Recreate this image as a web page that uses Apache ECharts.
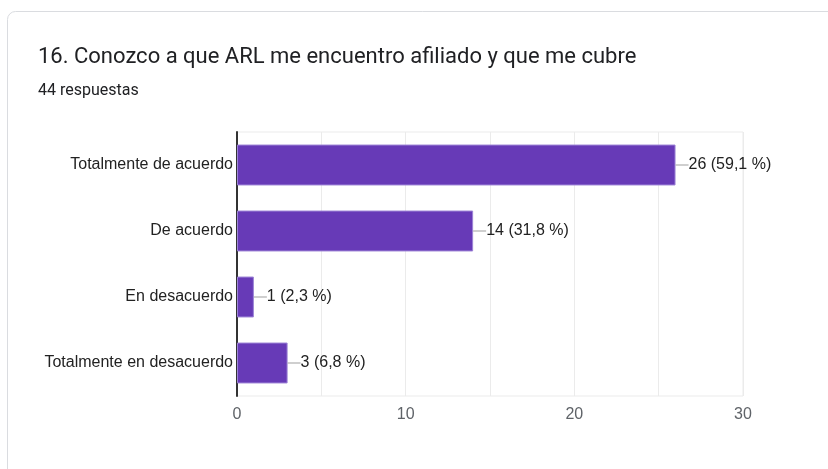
<!DOCTYPE html>
<html>
<head>
<meta charset="utf-8">
<script src="https://cdn.jsdelivr.net/npm/echarts@6/dist/echarts.min.js"></script>
<style>
  html, body { margin: 0; padding: 0; background: #ffffff; }
  #chart { width: 828px; height: 469px; }
</style>
</head>
<body>
<div id="chart"></div>
<script>
// Survey question and answers
const questionTitle = '16. Conozco a que ARL me encuentro afiliado y que me cubre';
const responseCount = 44;
const categories = ['Totalmente de acuerdo', 'De acuerdo', 'En desacuerdo', 'Totalmente en desacuerdo'];
const counts = [26, 14, 1, 3];
const percents = ['59,1', '31,8', '2,3', '6,8'];
const axisTicks = [0, 10, 20, 30];

const chart = echarts.init(document.getElementById('chart'), null, { renderer: 'canvas' });

const option = {
  backgroundColor: '#ffffff',
  animation: false,
  graphic: [
    {
      type: 'rect',
      shape: { x: 7.5, y: 11.5, width: 900, height: 600, r: 8 },
      style: { fill: '#ffffff', stroke: '#dadce0', lineWidth: 1 },
      z: -10
    }
  ],
  title: {
    text: questionTitle,
    subtext: responseCount + ' respuestas',
    left: 38,
    top: 46,
    padding: 0,
    itemGap: 15,
    textStyle: { fontFamily: 'Roboto', fontSize: 22, fontWeight: 'normal', color: '#202124' },
    subtextStyle: { fontFamily: 'Roboto', fontSize: 16, color: '#202124' }
  },
  grid: {
    left: 237, top: 132, width: 506, height: 264,
    show: true, borderColor: '#ebebeb', borderWidth: 1, containLabel: false
  },
  xAxis: {
    type: 'value',
    min: axisTicks[0],
    max: axisTicks[axisTicks.length - 1],
    interval: 5,
    axisLine: { show: false },
    axisTick: { show: false },
    splitLine: { show: true, lineStyle: { color: '#ebebeb', width: 1 } },
    axisLabel: {
      color: '#5f6368', fontFamily: 'Liberation Sans', fontSize: 16, margin: 11,
      formatter: v => axisTicks.indexOf(v) >= 0 ? String(v) : ''
    }
  },
  yAxis: {
    type: 'category',
    data: categories,
    inverse: true,
    axisLine: { show: true, lineStyle: { color: '#333333', width: 2 } },
    axisTick: { show: false },
    axisLabel: { color: '#222222', fontFamily: 'Liberation Sans', fontSize: 16, margin: 4 }
  },
  series: [
    {
      type: 'bar',
      data: counts,
      barCategoryGap: '38%',
      itemStyle: { color: '#673ab7', borderColor: '#9c83d6', borderWidth: 1 },
      z: 3,
      label: {
        show: true,
        position: 'right',
        distance: 0,
        formatter: p => '{line|}{txt|' + p.value + ' (' + percents[p.dataIndex] + ' %)}',
        rich: {
          line: { width: 13, height: 1, backgroundColor: '#9e9e9e' },
          txt: { color: '#222222', fontFamily: 'Liberation Sans', fontSize: 16, padding: [0, 0, 0, 0] }
        }
      }
    }
  ]
};

chart.setOption(option);
</script>
</body>
</html>
